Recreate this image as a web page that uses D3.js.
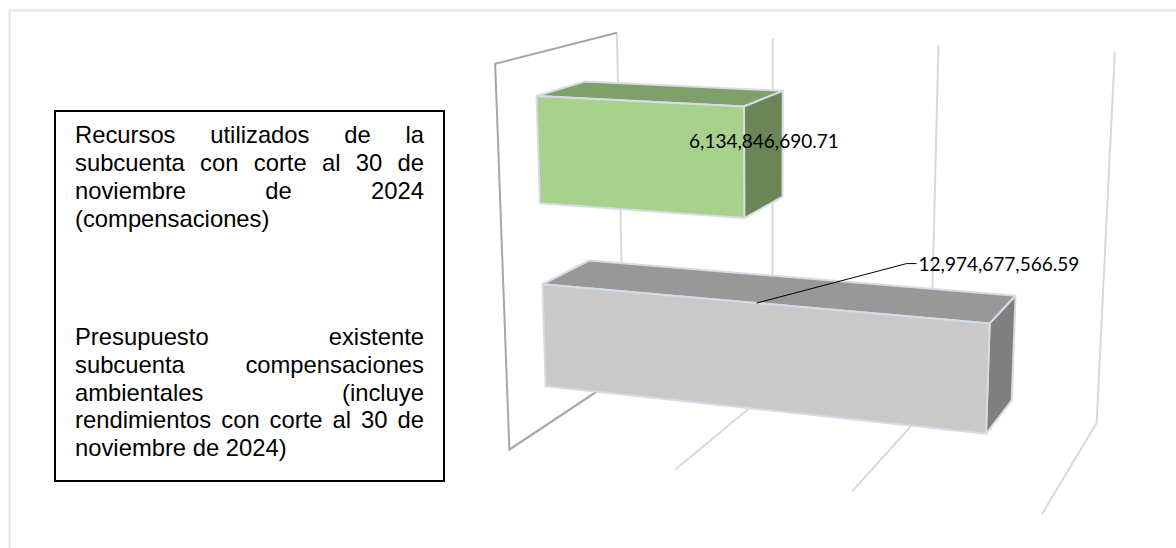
<!DOCTYPE html>
<html>
<head>
<meta charset="utf-8">
<style>
  body { margin: 0; background: #fff; }
  svg { display: block; }
  .note { font-family: "Liberation Sans", Arial, sans-serif; font-size: 23.8px; fill: #000; }
  .value { font-family: Lato, sans-serif; font-size: 19px; fill: #000; }
</style>
</head>
<body>
<div id="chart"></div>
<script src="https://cdn.jsdelivr.net/npm/d3@7"></script>
<script>
const width = 1176, height = 548;

const categories = ["Presupuesto", "Recursos"];
const values = [12974677566.59, 6134846690.71];
const valueLabels = ["12,974,677,566.59", "6,134,846,690.71"];
const ticks = [0, 5e9, 10e9, 15e9];
const frontFill = ["#c9c9c9", "#a9d18e"];
const topFill = ["#989898", "#7f9f6b"];
const sideFill = ["#7f7f7f", "#6b8557"];

// text box, one entry per line; true = justified
const noteLines = [
  ["Recursos utilizados de la", true, 143],
  ["subcuenta con corte al 30 de", true, 171],
  ["noviembre de 2024", true, 199],
  ["(compensaciones)", false, 226.5],
  ["Presupuesto existente", true, 345],
  ["subcuenta compensaciones", true, 372.8],
  ["ambientales (incluye", true, 400.6],
  ["rendimientos con corte al 30 de", true, 428.4],
  ["noviembre de 2024)", false, 456]
];

const svg = d3.select("#chart")
  .append("svg")
  .attr("width", width)
  .attr("height", height);

// scales go to "box" units: value 0..3, category 0..1 (vertical), depth 0 back..1 front
const x = d3.scaleLinear().domain([0, 15e9]).range([0, 3]);
const y = d3.scaleBand().domain(categories).range([0, 1]).paddingInner(0.436).paddingOuter(0.218);
const z = d3.scaleLinear().domain([0, 1]).range([0.3, 0.7]); // bar depth inside the box

// perspective projection fitted to the reference
function project(X, Y, Z) {
  const w = 1 - 0.02809 * X - 0.04704 * Y - 0.12041 * Z;
  return [
    (623.68 + 126.85 * X - 35.79 * Y - 175.66 * Z) / w,
    (373.65 + 4.52 * X - 342.47 * Y + 21.88 * Z) / w
  ];
}

const line = d3.line();

// outer chart border, only left and top show
svg.append("path")
  .attr("d", line([[9.5, height], [9.5, 10.5], [width, 10.5]]))
  .attr("fill", "none")
  .attr("stroke", "#e3e3e3")
  .attr("stroke-width", 2);

// gridlines: up the back wall and across the floor
for (let t of ticks) {
  let X = x(t);
  svg.append("path")
    .attr("d", line([project(X, 1, 0), project(X, 0, 0), project(X, 0, 1)]))
    .attr("fill", "none")
    .attr("stroke", "#d9d9d9")
    .attr("stroke-width", 2);
}

// side wall edges are darker
svg.append("path")
  .attr("d", line([project(0, 1, 0), project(0, 1, 1), project(0, 0, 1), project(0, 0, 0)]))
  .attr("fill", "none")
  .attr("stroke", "#a6a6a6")
  .attr("stroke-width", 2);

categories.forEach((c, i) => {
  let X = x(values[i]);
  let y0 = y(c), y1 = y(c) + y.bandwidth();
  let zb = z(0), zf = z(1);

  let g = svg.append("g")
    .attr("class", "bar")
    .attr("stroke", "#d6dce5")
    .attr("stroke-width", 2)
    .attr("stroke-linejoin", "round");

  g.append("path")
    .attr("fill", topFill[i])
    .attr("d", line([project(0, y1, zf), project(X, y1, zf), project(X, y1, zb), project(0, y1, zb)]) + "Z");
  g.append("path")
    .attr("fill", sideFill[i])
    .attr("d", line([project(X, y0, zf), project(X, y1, zf), project(X, y1, zb), project(X, y0, zb)]) + "Z");
  g.append("path")
    .attr("fill", frontFill[i])
    .attr("d", line([project(0, y0, zf), project(X, y0, zf), project(X, y1, zf), project(0, y1, zf)]) + "Z");
});

// data labels
let upper = project(x(values[1]), y(categories[1]) + y.bandwidth() / 2, 0.5);
svg.append("text")
  .attr("class", "value")
  .attr("x", upper[0])
  .attr("y", upper[1] - 5)
  .attr("text-anchor", "middle")
  .text(valueLabels[1]);

// the long bar's label is pulled out with a leader
let start = project(x(values[0]) / 2, y(categories[0]) + y.bandwidth(), z(1));
let elbow = [start[0] + 150, start[1] - 39.5];
svg.append("path")
  .attr("d", line([start, elbow, [elbow[0] + 10, elbow[1]]]))
  .attr("fill", "none")
  .attr("stroke", "#000")
  .attr("stroke-width", 1);
svg.append("text")
  .attr("class", "value")
  .attr("x", elbow[0] + 12)
  .attr("y", elbow[1] + 7)
  .text(valueLabels[0]);

// text box on the left
const box = { left: 55, top: 111, right: 444, bottom: 481, pad: 20 };
svg.append("rect")
  .attr("x", box.left)
  .attr("y", box.top)
  .attr("width", box.right - box.left)
  .attr("height", box.bottom - box.top)
  .attr("fill", "#fff")
  .attr("stroke", "#000")
  .attr("stroke-width", 2);

let boxText = box.right - box.left - 2 * box.pad;
for (let [txt, justify, baseline] of noteLines) {
  let t = svg.append("text")
    .attr("class", "note")
    .attr("x", box.left + box.pad)
    .attr("y", baseline)
    .text(txt);
  if (justify) {
    let gaps = txt.split(" ").length - 1;
    t.attr("word-spacing", (boxText - t.node().getComputedTextLength()) / gaps);
  }
}
</script>
</body>
</html>
